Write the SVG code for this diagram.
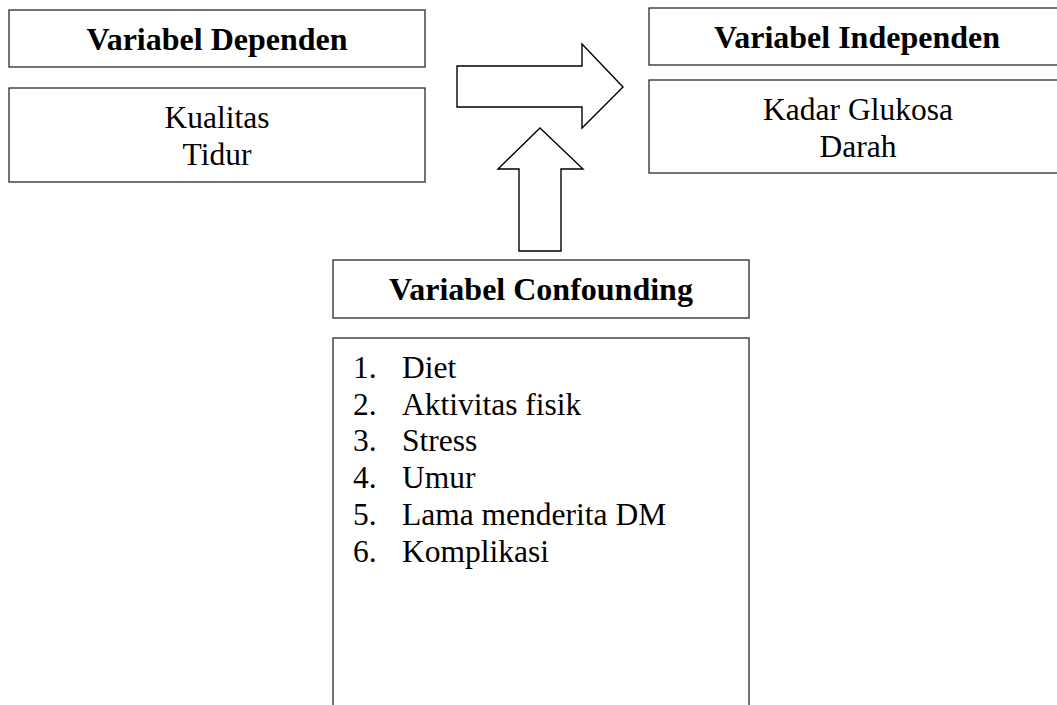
<svg xmlns="http://www.w3.org/2000/svg" width="1057" height="705" viewBox="0 0 1057 705">
<style>
.box{fill:#fff;stroke:#2a2a2a;stroke-width:1.3}
.arr{fill:#fff;stroke:#000;stroke-width:1.4;stroke-linejoin:miter}
.b{font-family:"Liberation Serif","Times New Roman",serif;font-weight:bold;font-size:32px;fill:#000;text-anchor:middle}
.r{font-family:"Liberation Serif","Times New Roman",serif;font-size:31.5px;fill:#000;text-anchor:middle}
.l{font-family:"Liberation Serif","Times New Roman",serif;font-size:31.5px;fill:#000}
</style>
<rect width="1057" height="705" fill="#fff"/>
<g id="dependen-header">
<rect class="box" x="9" y="10" width="416" height="57"/>
<text class="b" x="217" y="50">Variabel Dependen</text>
</g>
<g id="dependen-body">
<rect class="box" x="9" y="88" width="416" height="94"/>
<text class="r" x="217" y="128">Kualitas</text>
<text class="r" x="217" y="165">Tidur</text>
</g>
<g id="independen-header">
<rect class="box" x="649" y="8" width="417" height="57"/>
<text class="b" x="857" y="48">Variabel Independen</text>
</g>
<g id="independen-body">
<rect class="box" x="649" y="80" width="417" height="93"/>
<text class="r" x="858" y="120">Kadar Glukosa</text>
<text class="r" x="858" y="157">Darah</text>
</g>
<g id="confounding-header">
<rect class="box" x="333" y="260" width="416" height="58"/>
<text class="b" x="541" y="300">Variabel Confounding</text>
</g>
<g id="confounding-body">
<rect class="box" x="333" y="338" width="416" height="400"/>
<text class="l" x="353" y="378">1.</text><text class="l" x="402" y="378">Diet</text>
<text class="l" x="353" y="415">2.</text><text class="l" x="402" y="415">Aktivitas fisik</text>
<text class="l" x="353" y="451">3.</text><text class="l" x="402" y="451">Stress</text>
<text class="l" x="353" y="488">4.</text><text class="l" x="402" y="488">Umur</text>
<text class="l" x="353" y="525">5.</text><text class="l" x="402" y="525">Lama menderita DM</text>
<text class="l" x="353" y="562">6.</text><text class="l" x="402" y="562">Komplikasi</text>
</g>
<g id="connectors">
<polygon class="arr" points="457,66 582,66 582,44 623,87 582,128 582,107 457,107"/>
<polygon class="arr" points="540,128 583,169 561,169 561,251 519,251 519,169 498,169"/>
</g>
</svg>
